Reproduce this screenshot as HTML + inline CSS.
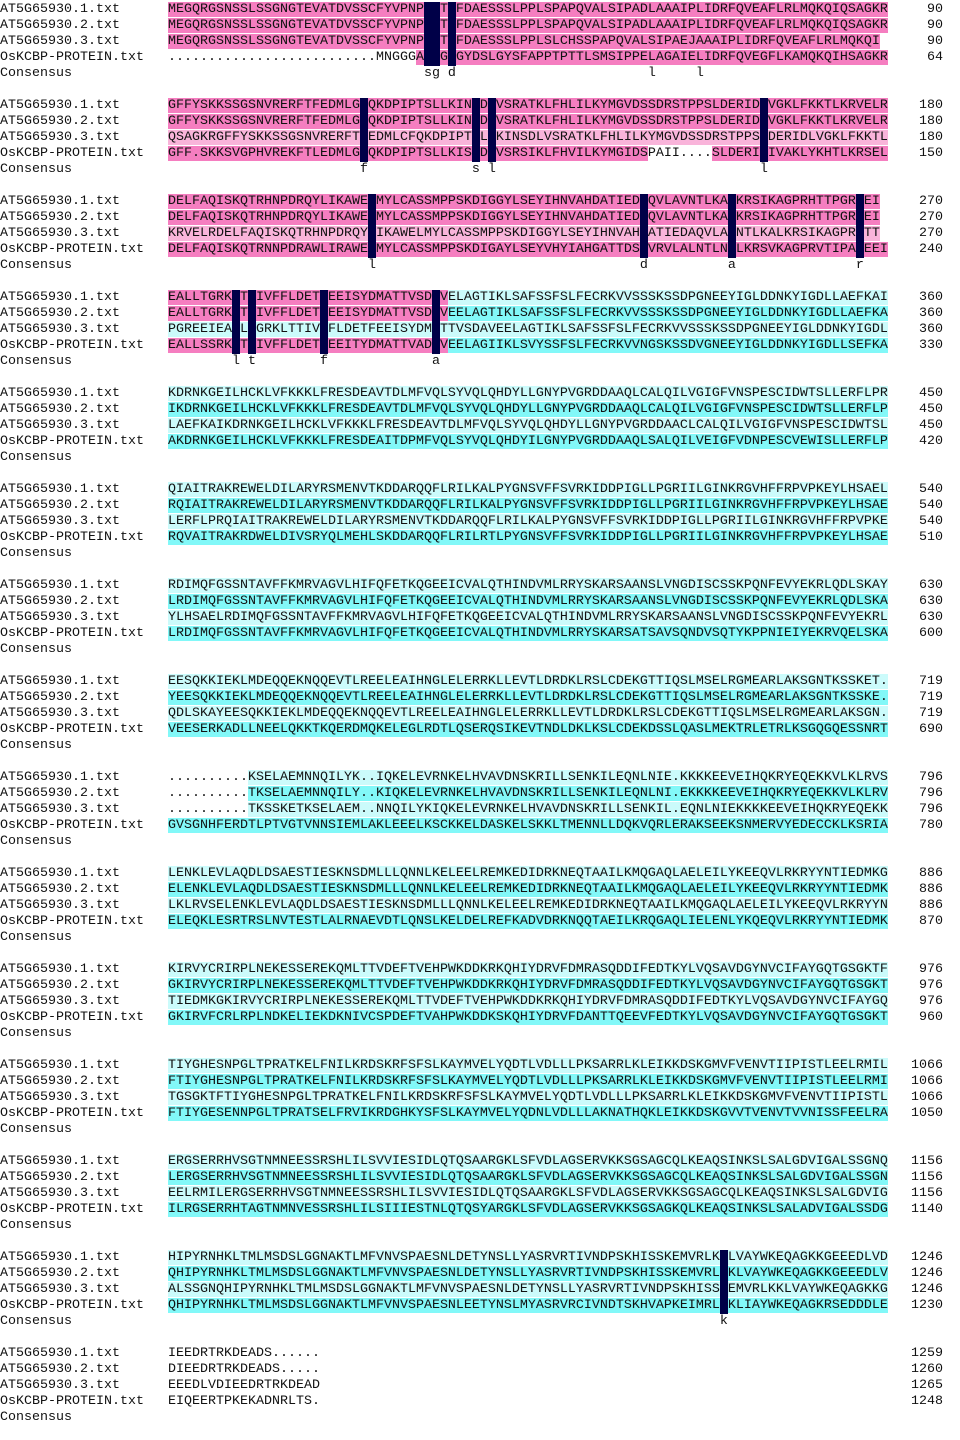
<!DOCTYPE html>
<html><head><meta charset="utf-8"><style>
html,body{margin:0;padding:0;background:#fff;}
body{width:960px;height:1440px;position:relative;overflow:hidden;font-family:"Liberation Mono",monospace;font-size:13.33px;color:#111;}
#w{position:absolute;left:0;top:2px;width:960px;height:1438px;}
.b{position:absolute;left:0;width:960px;height:80px;}
.r{position:relative;height:16px;line-height:16px;white-space:pre;}
.nm{position:absolute;left:0;}
.sq{position:absolute;left:168px;width:720px;overflow:hidden;}
.nu{position:absolute;right:17px;}
.p{background:#f57ec0;}
.pl{background:#f9b4da;}
.c{background:#82f8f8;}
.cl{background:#cbfbfb;}
.n{position:absolute;width:8px;height:64px;background:#000048;}
</style></head><body><div id="w">

<div class="b" style="top:0px">
<div class="r"><span class="nm">AT5G65930.1.txt</span><span class="sq"><span class="p">MEGQRGSNSSLSSGNGTEVATDVSSCFYVPNPSGTDFDAESSSLPPLSPAPQVALSIPADLAAAIPLIDRFQVEAFLRLMQKQIQSAGKR</span></span><span class="nu">90</span></div>
<div class="r"><span class="nm">AT5G65930.2.txt</span><span class="sq"><span class="p">MEGQRGSNSSLSSGNGTEVATDVSSCFYVPNPSGTDFDAESSSLPPLSPAPQVALSIPADLAAAIPLIDRFQVEAFLRLMQKQIQSAGKR</span></span><span class="nu">90</span></div>
<div class="r"><span class="nm">AT5G65930.3.txt</span><span class="sq"><span class="p">MEGQRGSNSSLSSGNGTEVATDVSSCFYVPNPSGTDFDAESSSLPPLSLCHSSPAPQVALSIPAEJAAAIPLIDRFQVEAFLRLMQKQI</span></span><span class="nu">90</span></div>
<div class="r"><span class="nm">OsKCBP-PROTEIN.txt</span><span class="sq">..........................MNGGG<span class="p">ASGGDGYDSLGYSFAPPTPTTLSMSIPPELAGAIELIDRFQVEGFLKAMQKQIHSAGKR</span></span><span class="nu">64</span></div>
<div class="r"><span class="nm">Consensus</span><span class="sq">                                sg d                        l     l</span></div>
</div>
<div class="n" style="top:0;left:424px"></div><div class="n" style="top:0;left:432px"></div><div class="n" style="top:0;left:448px"></div>

<div class="b" style="top:96px">
<div class="r"><span class="nm">AT5G65930.1.txt</span><span class="sq"><span class="p">GFFYSKKSSGSNVRERFTFEDMLGFQKDPIPTSLLKINSDLVSRATKLFHLILKYMGVDSSDRSTPPSLDERIDLVGKLFKKTLKRVELR</span></span><span class="nu">180</span></div>
<div class="r"><span class="nm">AT5G65930.2.txt</span><span class="sq"><span class="p">GFFYSKKSSGSNVRERFTFEDMLGFQKDPIPTSLLKINSDLVSRATKLFHLILKYMGVDSSDRSTPPSLDERIDLVGKLFKKTLKRVELR</span></span><span class="nu">180</span></div>
<div class="r"><span class="nm">AT5G65930.3.txt</span><span class="sq"><span class="pl">QSAGKRGFFYSKKSSGSNVRERFTFEDMLCFQKDPIPTSLLKINSDLVSRATKLFHLILKYMGVDSSDRSTPPSLDERIDLVGKLFKKTL</span></span><span class="nu">180</span></div>
<div class="r"><span class="nm">OsKCBP-PROTEIN.txt</span><span class="sq"><span class="p">GFF.SKKSVGPHVREKFTLEDMLGFQKDPIPTSLLKISSDIVSRSIKLFHVILKYMGIDS</span>PAII....<span class="p">SLDERIEIVAKLYKHTLKRSELR</span></span><span class="nu">150</span></div>
<div class="r"><span class="nm">Consensus</span><span class="sq">                        f             s l                                 l</span></div>
</div>
<div class="n" style="top:96px;left:360px"></div><div class="n" style="top:96px;left:472px"></div><div class="n" style="top:96px;left:488px"></div><div class="n" style="top:96px;left:760px"></div>

<div class="b" style="top:192px">
<div class="r"><span class="nm">AT5G65930.1.txt</span><span class="sq"><span class="p">DELFAQISKQTRHNPDRQYLIKAWELMYLCASSMPPSKDIGGYLSEYIHNVAHDATIEDAQVLAVNTLKALKRSIKAGPRHTTPGREEI</span></span><span class="nu">270</span></div>
<div class="r"><span class="nm">AT5G65930.2.txt</span><span class="sq"><span class="p">DELFAQISKQTRHNPDRQYLIKAWELMYLCASSMPPSKDIGGYLSEYIHNVAHDATIEDAQVLAVNTLKALKRSIKAGPRHTTPGREEI</span></span><span class="nu">270</span></div>
<div class="r"><span class="nm">AT5G65930.3.txt</span><span class="sq"><span class="pl">KRVELRDELFAQISKQTRHNPDRQYLIKAWELMYLCASSMPPSKDIGGYLSEYIHNVAHDATIEDAQVLAVNTLKALKRSIKAGPRHTT</span></span><span class="nu">270</span></div>
<div class="r"><span class="nm">OsKCBP-PROTEIN.txt</span><span class="sq"><span class="p">DELFAQISKQTRNNPDRAWLIRAWELMYLCASSMPPSKDIGAYLSEYVHYIAHGATTDSDVRVLALNTLNALKRSVKAGPRVTIPAREEI</span></span><span class="nu">240</span></div>
<div class="r"><span class="nm">Consensus</span><span class="sq">                         l                                 d          a               r</span></div>
</div>
<div class="n" style="top:192px;left:368px"></div><div class="n" style="top:192px;left:640px"></div><div class="n" style="top:192px;left:728px"></div><div class="n" style="top:192px;left:856px"></div>

<div class="b" style="top:288px">
<div class="r"><span class="nm">AT5G65930.1.txt</span><span class="sq"><span class="p">EALLTGRKLTTIVFFLDETFEEISYDMATTVSDAV</span><span class="cl">ELAGTIKLSAFSSFSLFECRKVVSSSKSSDPGNEEYIGLDDNKYIGDLLAEFKAI</span></span><span class="nu">360</span></div>
<div class="r"><span class="nm">AT5G65930.2.txt</span><span class="sq"><span class="p">EALLTGRKLTTIVFFLDETFEEISYDMATTVSDAV</span><span class="c">EELAGTIKLSAFSSFSLFECRKVVSSSKSSDPGNEEYIGLDDNKYIGDLLAEFKA</span></span><span class="nu">360</span></div>
<div class="r"><span class="nm">AT5G65930.3.txt</span><span class="sq"><span class="cl">PGREEIEALLTGRKLTTIVFFLDETFEEISYDMATTVSDAVEELAGTIKLSAFSSFSLFECRKVVSSSKSSDPGNEEYIGLDDNKYIGDL</span></span><span class="nu">360</span></div>
<div class="r"><span class="nm">OsKCBP-PROTEIN.txt</span><span class="sq"><span class="p">EALLSSRKLTTIVFFLDETFEEITYDMATTVADAV</span><span class="c">EELAGIIKLSVYSSFSLFECRKVVNGSKSSDVGNEEYIGLDDNKYIGDLLSEFKA</span></span><span class="nu">330</span></div>
<div class="r"><span class="nm">Consensus</span><span class="sq">        l t        f             a</span></div>
</div>
<div class="n" style="top:288px;left:232px"></div><div class="n" style="top:288px;left:248px"></div><div class="n" style="top:288px;left:320px"></div><div class="n" style="top:288px;left:432px"></div>

<div class="b" style="top:384px">
<div class="r"><span class="nm">AT5G65930.1.txt</span><span class="sq"><span class="cl">KDRNKGEILHCKLVFKKKLFRESDEAVTDLMFVQLSYVQLQHDYLLGNYPVGRDDAAQLCALQILVGIGFVNSPESCIDWTSLLERFLPR</span></span><span class="nu">450</span></div>
<div class="r"><span class="nm">AT5G65930.2.txt</span><span class="sq"><span class="c">IKDRNKGEILHCKLVFKKKLFRESDEAVTDLMFVQLSYVQLQHDYLLGNYPVGRDDAAQLCALQILVGIGFVNSPESCIDWTSLLERFLP</span></span><span class="nu">450</span></div>
<div class="r"><span class="nm">AT5G65930.3.txt</span><span class="sq"><span class="cl">LAEFKAIKDRNKGEILHCKLVFKKKLFRESDEAVTDLMFVQLSYVQLQHDYLLGNYPVGRDDAACLCALQILVGIGFVNSPESCIDWTSL</span></span><span class="nu">450</span></div>
<div class="r"><span class="nm">OsKCBP-PROTEIN.txt</span><span class="sq"><span class="c">AKDRNKGEILHCKLVFKKKLFRESDEAITDPMFVQLSYVQLQHDYILGNYPVGRDDAAQLSALQILVEIGFVDNPESCVEWISLLERFLP</span></span><span class="nu">420</span></div>
<div class="r"><span class="nm">Consensus</span></div>
</div>

<div class="b" style="top:480px">
<div class="r"><span class="nm">AT5G65930.1.txt</span><span class="sq"><span class="cl">QIAITRAKREWELDILARYRSMENVTKDDARQQFLRILKALPYGNSVFFSVRKIDDPIGLLPGRIILGINKRGVHFFRPVPKEYLHSAEL</span></span><span class="nu">540</span></div>
<div class="r"><span class="nm">AT5G65930.2.txt</span><span class="sq"><span class="c">RQIAITRAKREWELDILARYRSMENVTKDDARQQFLRILKALPYGNSVFFSVRKIDDPIGLLPGRIILGINKRGVHFFRPVPKEYLHSAE</span></span><span class="nu">540</span></div>
<div class="r"><span class="nm">AT5G65930.3.txt</span><span class="sq"><span class="cl">LERFLPRQIAITRAKREWELDILARYRSMENVTKDDARQQFLRILKALPYGNSVFFSVRKIDDPIGLLPGRIILGINKRGVHFFRPVPKE</span></span><span class="nu">540</span></div>
<div class="r"><span class="nm">OsKCBP-PROTEIN.txt</span><span class="sq"><span class="c">RQVAITRAKRDWELDIVSRYQLMEHLSKDDARQQFLRILRTLPYGNSVFFSVRKIDDPIGLLPGRIILGINKRGVHFFRPVPKEYLHSAE</span></span><span class="nu">510</span></div>
<div class="r"><span class="nm">Consensus</span></div>
</div>

<div class="b" style="top:576px">
<div class="r"><span class="nm">AT5G65930.1.txt</span><span class="sq"><span class="cl">RDIMQFGSSNTAVFFKMRVAGVLHIFQFETKQGEEICVALQTHINDVMLRRYSKARSAANSLVNGDISCSSKPQNFEVYEKRLQDLSKAY</span></span><span class="nu">630</span></div>
<div class="r"><span class="nm">AT5G65930.2.txt</span><span class="sq"><span class="c">LRDIMQFGSSNTAVFFKMRVAGVLHIFQFETKQGEEICVALQTHINDVMLRRYSKARSAANSLVNGDISCSSKPQNFEVYEKRLQDLSKA</span></span><span class="nu">630</span></div>
<div class="r"><span class="nm">AT5G65930.3.txt</span><span class="sq"><span class="cl">YLHSAELRDIMQFGSSNTAVFFKMRVAGVLHIFQFETKQGEEICVALQTHINDVMLRRYSKARSAANSLVNGDISCSSKPQNFEVYEKRL</span></span><span class="nu">630</span></div>
<div class="r"><span class="nm">OsKCBP-PROTEIN.txt</span><span class="sq"><span class="c">LRDIMQFGSSNTAVFFKMRVAGVLHIFQFETKQGEEICVALQTHINDVMLRRYSKARSATSAVSQNDVSQTYKPPNIEIYEKRVQELSKA</span></span><span class="nu">600</span></div>
<div class="r"><span class="nm">Consensus</span></div>
</div>

<div class="b" style="top:672px">
<div class="r"><span class="nm">AT5G65930.1.txt</span><span class="sq"><span class="cl">EESQKKIEKLMDEQQEKNQQEVTLREELEAIHNGLELERRKLLEVTLDRDKLRSLCDEKGTTIQSLMSELRGMEARLAKSGNTKSSKET.</span></span><span class="nu">719</span></div>
<div class="r"><span class="nm">AT5G65930.2.txt</span><span class="sq"><span class="c">YEESQKKIEKLMDEQQEKNQQEVTLREELEAIHNGLELERRKLLEVTLDRDKLRSLCDEKGTTIQSLMSELRGMEARLAKSGNTKSSKE.</span></span><span class="nu">719</span></div>
<div class="r"><span class="nm">AT5G65930.3.txt</span><span class="sq"><span class="cl">QDLSKAYEESQKKIEKLMDEQQEKNQQEVTLREELEAIHNGLELERRKLLEVTLDRDKLRSLCDEKGTTIQSLMSELRGMEARLAKSGN.</span></span><span class="nu">719</span></div>
<div class="r"><span class="nm">OsKCBP-PROTEIN.txt</span><span class="sq"><span class="c">VEESERKADLLNEELQKKTKQERDMQKELEGLRDTLQSERQSIKEVTNDLDKLKSLCDEKDSSLQASLMEKTRLETRLKSGQGQESSNRT</span></span><span class="nu">690</span></div>
<div class="r"><span class="nm">Consensus</span></div>
</div>

<div class="b" style="top:768px">
<div class="r"><span class="nm">AT5G65930.1.txt</span><span class="sq">..........<span class="cl">KSELAEMNNQILYK..IQKELEVRNKELHVAVDNSKRILLSENKILEQNLNIE.KKKKEEVEIHQKRYEQEKKVLKLRVSE</span></span><span class="nu">796</span></div>
<div class="r"><span class="nm">AT5G65930.2.txt</span><span class="sq">..........<span class="c">TKSELAEMNNQILY..KIQKELEVRNKELHVAVDNSKRILLSENKILEQNLNI.EKKKKEEVEIHQKRYEQEKKVLKLRVS</span></span><span class="nu">796</span></div>
<div class="r"><span class="nm">AT5G65930.3.txt</span><span class="sq">..........<span class="cl">TKSSKETKSELAEM..NNQILYKIQKELEVRNKELHVAVDNSKRILLSENKIL.EQNLNIEKKKKEEVEIHQKRYEQEKKV</span></span><span class="nu">796</span></div>
<div class="r"><span class="nm">OsKCBP-PROTEIN.txt</span><span class="sq"><span class="c">GVSGNHFERDTLPTVGTVNNSIEMLAKLEEELKSCKKELDASKELSKKLTMENNLLDQKVQRLERAKSEEKSNMERVYEDECCKLKSRIA</span></span><span class="nu">780</span></div>
<div class="r"><span class="nm">Consensus</span></div>
</div>

<div class="b" style="top:864px">
<div class="r"><span class="nm">AT5G65930.1.txt</span><span class="sq"><span class="cl">LENKLEVLAQDLDSAESTIESKNSDMLLLQNNLKELEELREMKEDIDRKNEQTAAILKMQGAQLAELEILYKEEQVLRKRYYNTIEDMKG</span></span><span class="nu">886</span></div>
<div class="r"><span class="nm">AT5G65930.2.txt</span><span class="sq"><span class="c">ELENKLEVLAQDLDSAESTIESKNSDMLLLQNNLKELEELREMKEDIDRKNEQTAAILKMQGAQLAELEILYKEEQVLRKRYYNTIEDMK</span></span><span class="nu">886</span></div>
<div class="r"><span class="nm">AT5G65930.3.txt</span><span class="sq"><span class="cl">LKLRVSELENKLEVLAQDLDSAESTIESKNSDMLLLQNNLKELEELREMKEDIDRKNEQTAAILKMQGAQLAELEILYKEEQVLRKRYYN</span></span><span class="nu">886</span></div>
<div class="r"><span class="nm">OsKCBP-PROTEIN.txt</span><span class="sq"><span class="c">ELEQKLESRTRSLNVTESTLALRNAEVDTLQNSLKELDELREFKADVDRKNQQTAEILKRQGAQLIELENLYKQEQVLRKRYYNTIEDMK</span></span><span class="nu">870</span></div>
<div class="r"><span class="nm">Consensus</span></div>
</div>

<div class="b" style="top:960px">
<div class="r"><span class="nm">AT5G65930.1.txt</span><span class="sq"><span class="cl">KIRVYCRIRPLNEKESSEREKQMLTTVDEFTVEHPWKDDKRKQHIYDRVFDMRASQDDIFEDTKYLVQSAVDGYNVCIFAYGQTGSGKTF</span></span><span class="nu">976</span></div>
<div class="r"><span class="nm">AT5G65930.2.txt</span><span class="sq"><span class="c">GKIRVYCRIRPLNEKESSEREKQMLTTVDEFTVEHPWKDDKRKQHIYDRVFDMRASQDDIFEDTKYLVQSAVDGYNVCIFAYGQTGSGKT</span></span><span class="nu">976</span></div>
<div class="r"><span class="nm">AT5G65930.3.txt</span><span class="sq"><span class="cl">TIEDMKGKIRVYCRIRPLNEKESSEREKQMLTTVDEFTVEHPWKDDKRKQHIYDRVFDMRASQDDIFEDTKYLVQSAVDGYNVCIFAYGQ</span></span><span class="nu">976</span></div>
<div class="r"><span class="nm">OsKCBP-PROTEIN.txt</span><span class="sq"><span class="c">GKIRVFCRLRPLNDKELIEKDKNIVCSPDEFTVAHPWKDDKSKQHIYDRVFDANTTQEEVFEDTKYLVQSAVDGYNVCIFAYGQTGSGKT</span></span><span class="nu">960</span></div>
<div class="r"><span class="nm">Consensus</span></div>
</div>

<div class="b" style="top:1056px">
<div class="r"><span class="nm">AT5G65930.1.txt</span><span class="sq"><span class="cl">TIYGHESNPGLTPRATKELFNILKRDSKRFSFSLKAYMVELYQDTLVDLLLPKSARRLKLEIKKDSKGMVFVENVTIIPISTLEELRMIL</span></span><span class="nu">1066</span></div>
<div class="r"><span class="nm">AT5G65930.2.txt</span><span class="sq"><span class="c">FTIYGHESNPGLTPRATKELFNILKRDSKRFSFSLKAYMVELYQDTLVDLLLPKSARRLKLEIKKDSKGMVFVENVTIIPISTLEELRMI</span></span><span class="nu">1066</span></div>
<div class="r"><span class="nm">AT5G65930.3.txt</span><span class="sq"><span class="cl">TGSGKTFTIYGHESNPGLTPRATKELFNILKRDSKRFSFSLKAYMVELYQDTLVDLLLPKSARRLKLEIKKDSKGMVFVENVTIIPISTL</span></span><span class="nu">1066</span></div>
<div class="r"><span class="nm">OsKCBP-PROTEIN.txt</span><span class="sq"><span class="c">FTIYGESENNPGLTPRATSELFRVIKRDGHKYSFSLKAYMVELYQDNLVDLLLAKNATHQKLEIKKDSKGVVTVENVTVVNISSFEELRAI</span></span><span class="nu">1050</span></div>
<div class="r"><span class="nm">Consensus</span></div>
</div>

<div class="b" style="top:1152px">
<div class="r"><span class="nm">AT5G65930.1.txt</span><span class="sq"><span class="cl">ERGSERRHVSGTNMNEESSRSHLILSVVIESIDLQTQSAARGKLSFVDLAGSERVKKSGSAGCQLKEAQSINKSLSALGDVIGALSSGNQ</span></span><span class="nu">1156</span></div>
<div class="r"><span class="nm">AT5G65930.2.txt</span><span class="sq"><span class="c">LERGSERRHVSGTNMNEESSRSHLILSVVIESIDLQTQSAARGKLSFVDLAGSERVKKSGSAGCQLKEAQSINKSLSALGDVIGALSSGN</span></span><span class="nu">1156</span></div>
<div class="r"><span class="nm">AT5G65930.3.txt</span><span class="sq"><span class="cl">EELRMILERGSERRHVSGTNMNEESSRSHLILSVVIESIDLQTQSAARGKLSFVDLAGSERVKKSGSAGCQLKEAQSINKSLSALGDVIG</span></span><span class="nu">1156</span></div>
<div class="r"><span class="nm">OsKCBP-PROTEIN.txt</span><span class="sq"><span class="c">ILRGSERRHTAGTNMNVESSRSHLILSIIIESTNLQTQSYARGKLSFVDLAGSERVKKSGSAGKQLKEAQSINKSLSALADVIGALSSDG</span></span><span class="nu">1140</span></div>
<div class="r"><span class="nm">Consensus</span></div>
</div>

<div class="b" style="top:1248px">
<div class="r"><span class="nm">AT5G65930.1.txt</span><span class="sq"><span class="cl">HIPYRNHKLTMLMSDSLGGNAKTLMFVNVSPAESNLDETYNSLLYASRVRTIVNDPSKHISSKEMVRLKKLVAYWKEQAGKKGEEEDLVD</span></span><span class="nu">1246</span></div>
<div class="r"><span class="nm">AT5G65930.2.txt</span><span class="sq"><span class="c">QHIPYRNHKLTMLMSDSLGGNAKTLMFVNVSPAESNLDETYNSLLYASRVRTIVNDPSKHISSKEMVRLKKLVAYWKEQAGKKGEEEDLV</span></span><span class="nu">1246</span></div>
<div class="r"><span class="nm">AT5G65930.3.txt</span><span class="sq"><span class="cl">ALSSGNQHIPYRNHKLTMLMSDSLGGNAKTLMFVNVSPAESNLDETYNSLLYASRVRTIVNDPSKHISSKEMVRLKKLVAYWKEQAGKKG</span></span><span class="nu">1246</span></div>
<div class="r"><span class="nm">OsKCBP-PROTEIN.txt</span><span class="sq"><span class="c">QHIPYRNHKLTMLMSDSLGGNAKTLMFVNVSPAESNLEETYNSLMYASRVRCIVNDTSKHVAPKEIMRLKKLIAYWKEQAGKRSEDDDLE</span></span><span class="nu">1230</span></div>
<div class="r"><span class="nm">Consensus</span><span class="sq">                                                                     k</span></div>
</div>
<div class="n" style="top:1248px;left:720px"></div>

<div class="b" style="top:1344px">
<div class="r"><span class="nm">AT5G65930.1.txt</span><span class="sq">IEEDRTRKDEADS......</span><span class="nu">1259</span></div>
<div class="r"><span class="nm">AT5G65930.2.txt</span><span class="sq">DIEEDRTRKDEADS.....</span><span class="nu">1260</span></div>
<div class="r"><span class="nm">AT5G65930.3.txt</span><span class="sq">EEEDLVDIEEDRTRKDEAD</span><span class="nu">1265</span></div>
<div class="r"><span class="nm">OsKCBP-PROTEIN.txt</span><span class="sq">EIQEERTPKEKADNRLTS.</span><span class="nu">1248</span></div>
<div class="r"><span class="nm">Consensus</span></div>
</div>

</div></body></html>
